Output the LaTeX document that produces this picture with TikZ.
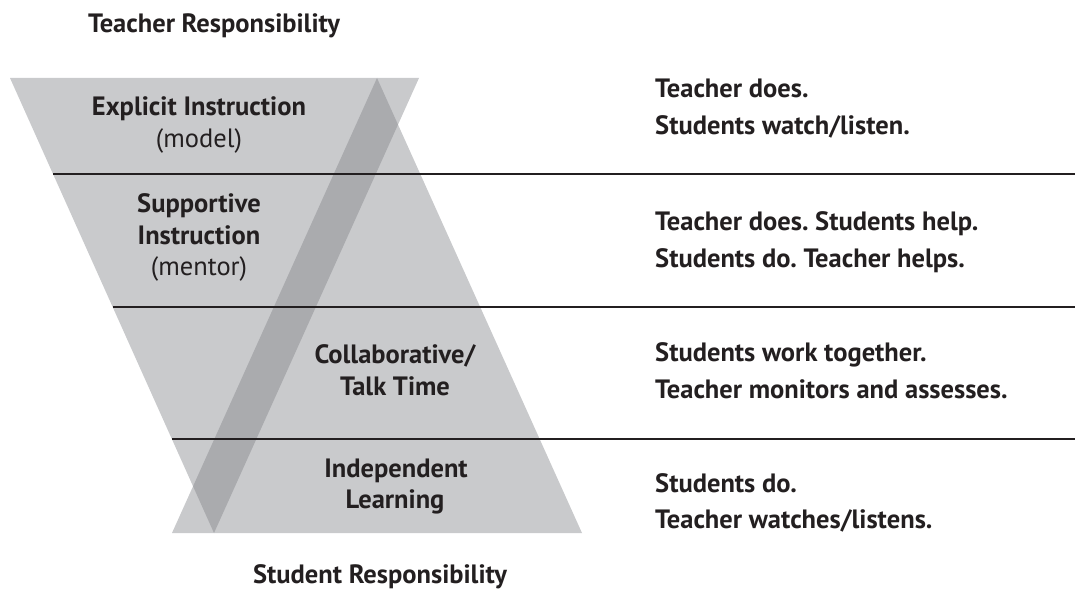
\documentclass[tikz,border=0pt]{standalone}
\usepackage{fontspec}
\setmainfont{PT Sans}
\usetikzlibrary{calc}

\definecolor{ink}{HTML}{231F20}
\definecolor{paleband}{HTML}{C9CACC}
\definecolor{darkband}{HTML}{AAABAE}

\tikzset{
  head/.style={anchor=base, inner sep=0pt, text=ink, font=\fontsize{26.5}{32}\selectfont\bfseries},
  sub/.style={anchor=base, inner sep=0pt, text=ink, font=\fontsize{26.5}{32}\selectfont},
  note/.style={anchor=base west, inner sep=0pt, text=ink, font=\fontsize{26.5}{32}\selectfont\bfseries},
  rule/.style={draw=ink, line width=2.4pt}
}

\frenchspacing
\begin{document}
\begin{tikzpicture}[x=1pt, y=-1pt]
      \useasboundingbox (0,0) rectangle (1075,591);

      % corners of the two triangles
      \coordinate (tl) at (10,78);
      \coordinate (tr) at (419,78);
      \coordinate (tb) at (214,533);
      \coordinate (sa) at (377,78);
      \coordinate (sl) at (172,533);
      \coordinate (sr) at (582,533);

      \fill[paleband] (tl) -- (tr) -- (tb) -- cycle;
      \fill[paleband] (sa) -- (sl) -- (sr) -- cycle;
      \begin{scope}
        \clip (tl) -- (tr) -- (tb) -- cycle;
        \fill[darkband] (sa) -- (sl) -- (sr) -- cycle;
      \end{scope}

      % row dividers
      \coordinate (r1) at (53,174);
      \coordinate (r2) at (113,307);
      \coordinate (r3) at (172,439);
      \coordinate (e1) at (1075,174);
      \coordinate (e2) at (1075,307);
      \coordinate (e3) at (1075,439);
      \draw[rule] (r1) -- (e1);
      \draw[rule] (r2) -- (e2);
      \draw[rule] (r3) -- (e3);

      \node[head] (teach) at (214,33) {Teacher Responsibility};
      \node[head] (stud) at (380,583) {Student Responsibility};

      \node[head] (expl) at (199,116) {Explicit Instruction};
      \node[sub] (model) at (199,147) {(model)};
      \node[head] (supp1) at (199,212) {Supportive};
      \node[head] (supp2) at (199,244) {Instruction};
      \node[sub] (mentor) at (199,275) {(mentor)};
      \node[head] (coll1) at (395,363) {Collaborative/};
      \node[head] (coll2) at (395,395) {Talk Time};
      \node[head] (ind1) at (396,477) {Independent};
      \node[head] (ind2) at (395,508) {Learning};

      \node[note] (n1) at (655,98) {Teacher does.};
      \node[note] (n2) at (655,134) {Students watch/listen.};
      \node[note] (n3) at (655,230) {Teacher does. Students help.};
      \node[note] (n4) at (655,267) {Students do. Teacher helps.};
      \node[note] (n5) at (655,361) {Students work together.};
      \node[note] (n6) at (655,398) {Teacher monitors and assesses.};
      \node[note] (n7) at (655,492) {Students do.};
      \node[note] (n8) at (655,528) {Teacher watches/listens.};
\end{tikzpicture}
\end{document}
